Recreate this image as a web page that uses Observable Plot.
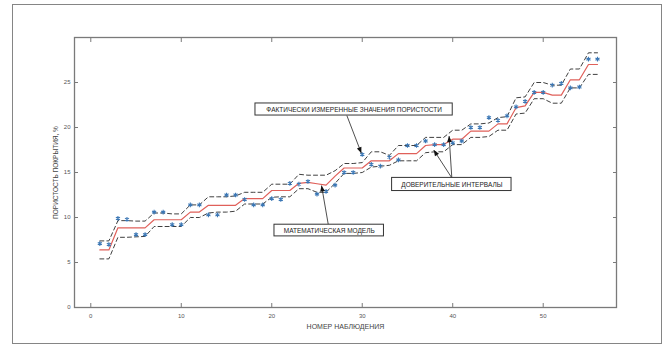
<!DOCTYPE html>
<html><head><meta charset="utf-8">
<script src="https://cdn.jsdelivr.net/npm/d3@7"></script>
<script src="https://cdn.jsdelivr.net/npm/@observablehq/plot@0.6"></script>
<style>
body{margin:0;background:#fff;}
#wrap{position:relative;width:669px;height:350px;overflow:hidden;}
#border{position:absolute;left:12px;top:4px;width:648px;height:338px;border:1.5px solid #858585;pointer-events:none;}
svg{font-family:"Liberation Sans",Arial,sans-serif;}
</style></head><body><div id="wrap"><div id="border"></div></div>
<script>
const obs = [1,2,3,4,5,6,7,8,9,10,11,12,13,14,15,16,17,18,19,20,21,22,23,24,25,26,27,28,29,30,31,32,33,34,35,36,37,38,39,40,41,42,43,44,45,46,47,48,49,50,51,52,53,54,55,56];
const measured = [7.1,7.0,9.9,9.8,8.1,8.1,10.6,10.6,9.2,9.2,
  11.4,11.4,10.3,10.3,12.5,12.5,12.0,11.4,11.4,12.1,
  12.0,13.8,13.7,14.0,12.6,12.9,13.6,15.0,15.0,17.0,
  15.9,15.7,16.7,16.4,18.0,18.0,18.5,18.1,18.1,18.3,
  18.5,20.0,20.0,21.1,20.8,21.3,22.3,22.9,23.9,23.9,
  24.7,24.9,24.4,24.5,27.6,27.6];
const model = [6.4,6.4,8.85,8.85,8.85,8.85,9.75,9.75,9.75,9.75,
  10.6,10.6,11.35,11.35,11.35,11.35,12.1,12.1,12.1,13.0,
  13.0,13.0,13.8,13.9,13.75,13.6,14.6,15.5,15.5,15.5,
  16.3,16.3,16.3,17.1,17.1,17.1,18.0,18.1,18.1,18.7,
  18.7,19.6,19.6,19.6,20.4,20.4,22.2,22.4,23.9,23.9,
  23.6,23.6,25.3,25.3,27.0,27.0];
const upper = [7.4,7.4,9.65,9.65,9.6,9.6,10.5,10.5,10.4,10.4,
  11.4,11.4,12.3,12.3,12.3,12.4,12.8,12.8,12.8,13.7,
  13.7,13.7,14.8,14.7,14.7,14.7,15.2,16.0,16.0,16.1,
  17.3,17.3,16.9,18.0,18.0,18.0,18.9,18.9,18.9,19.7,
  19.7,20.4,20.4,20.5,21.1,21.2,23.3,23.4,25.0,25.0,
  24.7,24.7,26.5,26.5,28.3,28.3];
const lower = [5.4,5.4,7.8,7.8,7.85,7.9,9.0,9.0,9.0,9.0,
  10.0,10.0,10.5,10.6,10.6,10.7,11.5,11.5,11.5,12.25,
  12.3,12.3,13.2,13.2,12.8,12.8,13.8,14.9,14.9,15.0,
  15.6,15.7,15.8,16.3,16.3,16.3,17.2,17.3,17.3,18.1,
  18.1,18.9,18.9,19.0,19.7,19.7,21.5,21.6,23.2,23.2,
  22.7,22.7,24.4,24.4,25.9,25.9];
const xTicks = [0,10,20,30,40,50];
const yTicks = [0,5,10,15,20,25];
const xTitle = "НОМЕР НАБЛЮДЕНИЯ";
const yTitle = "ПОРИСТОСТЬ ПОКРЫТИЯ, %";
// annotations (data units)
const noteText = ["ФАКТИЧЕСКИ ИЗМЕРЕННЫЕ ЗНАЧЕНИЯ ПОРИСТОСТИ", "ДОВЕРИТЕЛЬНЫЕ ИНТЕРВАЛЫ", "МАТЕМАТИЧЕСКАЯ МОДЕЛЬ"];
const noteX1 = [18.2, 33.3, 20.3];
const noteX2 = [40.0, 46.5, 32.4];
const noteY1 = [21.33, 12.94, 7.9];
const noteY2 = [22.67, 14.4, 9.2];
const arrowFromX = [28.3, 39.9, 39.9, 26.25];
const arrowFromY = [21.33, 14.4, 14.4, 9.2];
const arrowToX = [29.9, 39.6, 37.9, 25.5];
const arrowToY = [17.15, 19.05, 17.5, 13.55];

const series = obs.map((o, i) => ({o, m: measured[i], f: model[i], u: upper[i], l: lower[i]}));
const notes = noteText.map((t, i) => ({t, x1: noteX1[i], x2: noteX2[i], y1: noteY1[i], y2: noteY2[i]}));
const arrows = arrowFromX.map((x, i) => ({x1: x, y1: arrowFromY[i], x2: arrowToX[i], y2: arrowToY[i]}));

const axisColor = "#7a7a7a";
const chart = Plot.plot({
  width: 669, height: 350,
  marginLeft: 74, marginRight: 53, marginTop: 37, marginBottom: 43,
  style: {background: "transparent", fontFamily: "Liberation Sans, Arial, sans-serif"},
  x: {domain: [-1.8, 58.1]},
  y: {domain: [0, 30]},
  marks: [
    Plot.frame({stroke: axisColor, strokeWidth: 1.3}),
    Plot.axisY(yTicks, {anchor: "left", tickSize: -4, tickPadding: 8, fontSize: 6, fill: "#555", stroke: axisColor, label: null}),
    Plot.axisY(yTicks, {anchor: "right", tickSize: -4, tickFormat: () => "", stroke: axisColor, label: null}),
    Plot.axisX(xTicks, {anchor: "bottom", tickSize: -4, tickPadding: 10, fontSize: 6, fill: "#555", stroke: axisColor, label: null}),
    Plot.axisX(xTicks, {anchor: "top", tickSize: -4, tickFormat: () => "", stroke: axisColor, label: null}),
    Plot.text([xTitle], {frameAnchor: "bottom", dy: 19, lineAnchor: "middle", textAnchor: "middle", text: d => d, fontSize: 7, fill: "#444"}),
    Plot.text([yTitle], {frameAnchor: "left", dx: -19, rotate: -90, textAnchor: "middle", lineAnchor: "middle", text: d => d, fontSize: 6.5, fill: "#444"}),
    Plot.line(series, {x: "o", y: "u", stroke: "#2a2a2a", strokeWidth: 0.9, strokeDasharray: "4,3"}),
    Plot.line(series, {x: "o", y: "l", stroke: "#2a2a2a", strokeWidth: 0.9, strokeDasharray: "4,3"}),
    Plot.line(series, {x: "o", y: "f", stroke: "#e0605a", strokeWidth: 1.2}),
    Plot.dot(series, {x: "o", y: "m", symbol: "asterisk", r: 2.2, stroke: "#3b77b5", strokeWidth: 1.1}),
    Plot.link(arrows, {x1: "x1", y1: "y1", x2: "x2", y2: "y2", stroke: "#222", strokeWidth: 0.8}),
    Plot.rect(notes, {x1: "x1", x2: "x2", y1: "y1", y2: "y2", fill: "white", stroke: "#333", strokeWidth: 1}),
    Plot.text(notes, {x: d => (d.x1 + d.x2) / 2, y: d => (d.y1 + d.y2) / 2, text: "t", fontSize: 6.5, fill: "#222"})
  ]
});
document.getElementById("wrap").prepend(chart);

// filled arrowheads on annotation links
const svg = d3.select(chart);
const defs = svg.insert("defs", ":first-child");
defs.append("marker").attr("id", "fillArrow").attr("viewBox", "0 -5 10 10")
  .attr("refX", 10).attr("refY", 0).attr("markerUnits", "userSpaceOnUse")
  .attr("markerWidth", 7).attr("markerHeight", 6).attr("orient", "auto")
  .append("path").attr("d", "M0,-4L10,0L0,4Z").attr("fill", "#111");
svg.selectAll('g[aria-label="link"] path').attr("marker-end", "url(#fillArrow)");
</script></body></html>
